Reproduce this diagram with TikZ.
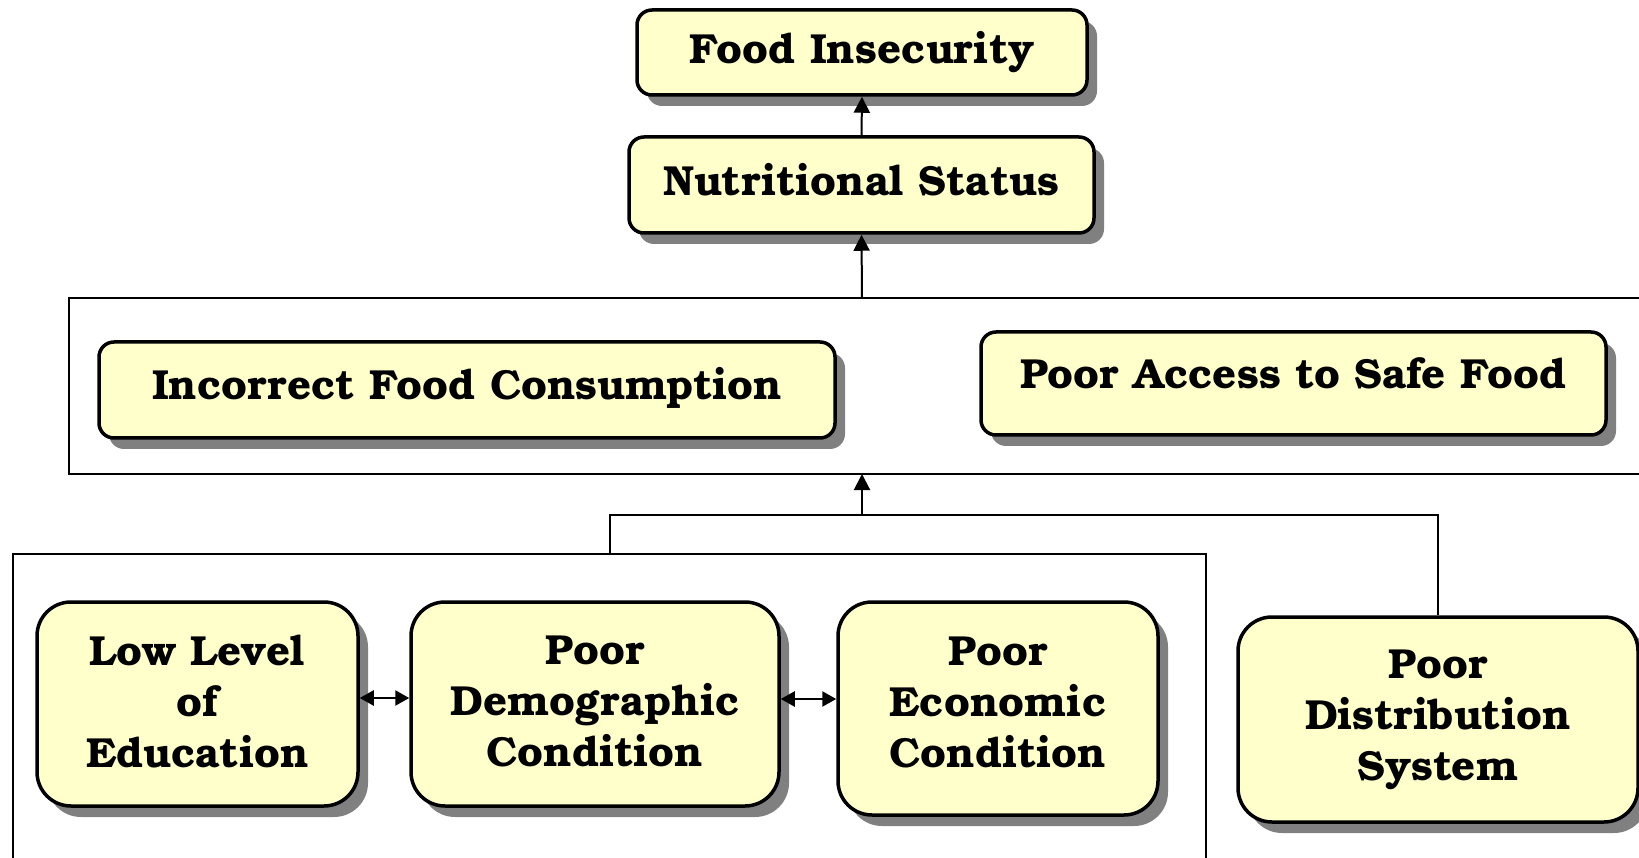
\documentclass[tikz,border=0pt]{standalone}
\usepackage{fontspec}
\setmainfont{TeX Gyre Bonum}
\usetikzlibrary{arrows.meta,shadows}
\definecolor{boxfill}{RGB}{255,255,204}
\definecolor{shadowgray}{RGB}{128,128,128}
\tikzset{
  box/.style={draw=black, line width=3.5pt, fill=boxfill, rounded corners=15pt,
    align=center, inner sep=0pt, font=\fontsize{42}{51}\selectfont\bfseries,
    drop shadow={shadow xshift=10pt, shadow yshift=-11pt, opacity=1, fill=shadowgray, draw=none}},
  tallbox/.style={box, rounded corners=34pt},
  container/.style={draw=black, line width=2pt},
  conn/.style={draw=black, line width=2pt},
  upar/.style={conn, -{Triangle[length=16pt,width=16pt]}},
  dblar/.style={conn, line width=2.4pt, {Triangle[length=14pt,width=15pt]}-{Triangle[length=14pt,width=15pt]}}
}
\begin{document}
\begin{tikzpicture}[x=1pt,y=-1pt]
\useasboundingbox (0,0) rectangle (1639,858);
\clip (0,0) rectangle (1639,858);
\fill[white] (0,0) rectangle (1639,858);
% containers
\draw[container] (69,298) rectangle (1660,474);
\draw[container] (13,554) rectangle (1206,900);
\coordinate (c1top) at (862,298);
\coordinate (c1bot) at (862,474);
\coordinate (junc) at (862,515);
\coordinate (c2top) at (610,554);
% boxes
\node[box, minimum width=450pt, minimum height=85pt] (fi) at (862,52.5) {Food Insecurity};
\node[box, minimum width=465pt, minimum height=96pt, text depth=12pt] (ns) at (861.5,185) {Nutritional Status};
\node[box, minimum width=736pt, minimum height=96pt, text depth=14pt] (ifc) at (467,390) {Incorrect Food Consumption};
\node[box, minimum width=625pt, minimum height=103pt, text depth=20pt] (pasf) at (1293.5,383.5) {Poor Access to Safe Food};
\node[tallbox, minimum width=321pt, minimum height=204pt, text depth=6pt] (lle) at (197.5,704) {Low Level\\of\\Education};
\node[tallbox, minimum width=368pt, minimum height=204pt, text depth=6pt] (pdc) at (595,704) {Poor\\Demographic\\Condition};
\node[tallbox, minimum width=320pt, minimum height=213pt, text depth=12pt] (pec) at (998,708.5) {Poor\\Economic\\Condition};
\node[tallbox, minimum width=400pt, minimum height=205pt] (pds) at (1438,719.5) {Poor\\Distribution\\System};
% connectors
\draw[upar] (ns.north) -- (fi.south);
\draw[upar] (c1top) -- (ns.south);
\draw[upar] (junc) -- (c1bot);
\draw[conn] (c2top) |- (junc);
\draw[conn] (pds.north) |- (junc);
\draw[dblar] (lle.east |- 0,698) -- (pdc.west |- 0,698);
\draw[dblar] (pdc.east |- 0,699) -- (pec.west |- 0,699);
\end{tikzpicture}
\end{document}
